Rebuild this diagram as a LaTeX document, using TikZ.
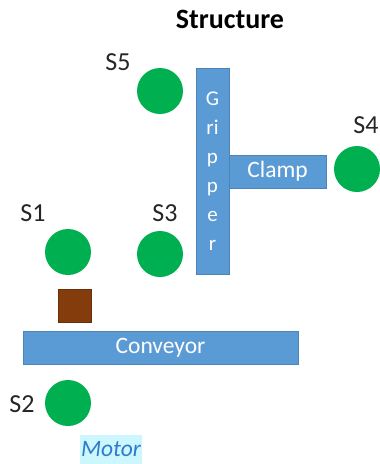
\documentclass[tikz,border=0pt]{standalone}
\usepackage{fontspec}
\setmainfont{Carlito}
\definecolor{sgreen}{HTML}{00B050}
\definecolor{bblue}{HTML}{5B9BD5}
\definecolor{bbrown}{HTML}{843C0C}
\definecolor{mtext}{HTML}{2F7BCB}
\definecolor{mbg}{HTML}{CCF7FF}
\tikzset{
  sensor/.style={circle, fill=sgreen, minimum size=46pt, inner sep=0pt},
  slabel/.style={font=\fontsize{26}{26}\selectfont, text=black!85, inner sep=0pt},
  bar/.style={fill=bblue, draw=bblue!85!black, line width=0.6pt, inner sep=0pt, text=white, font=\fontsize{23.5}{23.5}\selectfont},
}
\begin{document}
\begin{tikzpicture}[x=1pt,y=-1pt]
\useasboundingbox (0,0) rectangle (380,464);
\node[font=\bfseries\fontsize{28}{28}\selectfont, inner sep=0pt] (title) at (230,19) {Structure};
% gripper and clamp
\node[bar, minimum width=33pt, minimum height=206pt, align=center,
      font=\fontsize{21}{29}\selectfont] (gripper) at (212.5,171.5) {G\\ri\\p\\p\\e\\r};
\node[bar, minimum width=97pt, minimum height=33pt] (clamp) at (277.5,171.5) {Clamp};
\node[bar, minimum width=275pt, minimum height=33pt] (conveyor) at (160.5,347.5) {Conveyor};
\node[fill=bbrown, draw=bbrown!80!black, line width=0.6pt, minimum size=33pt, inner sep=0pt] (box) at (74.5,305.5) {};
% sensors
\node[sensor] (s5) at (160,91) {};
\node[sensor] (s4) at (357,169) {};
\node[sensor] (s1) at (68,252) {};
\node[sensor] (s3) at (160,254) {};
\node[sensor] (s2) at (68,403) {};
\node[slabel] (l5) at (118,62) {S5};
\node[slabel] (l4) at (366,125) {S4};
\node[slabel] (l1) at (33,213) {S1};
\node[slabel] (l3) at (165,213) {S3};
\node[slabel] (l2) at (22,404) {S2};
% motor
\node[fill=mbg, text=mtext, font=\itshape\fontsize{23.5}{23.5}\selectfont, inner sep=0pt,
      minimum width=62pt, minimum height=29pt] (motor) at (111,449) {Motor};
\end{tikzpicture}
\end{document}
